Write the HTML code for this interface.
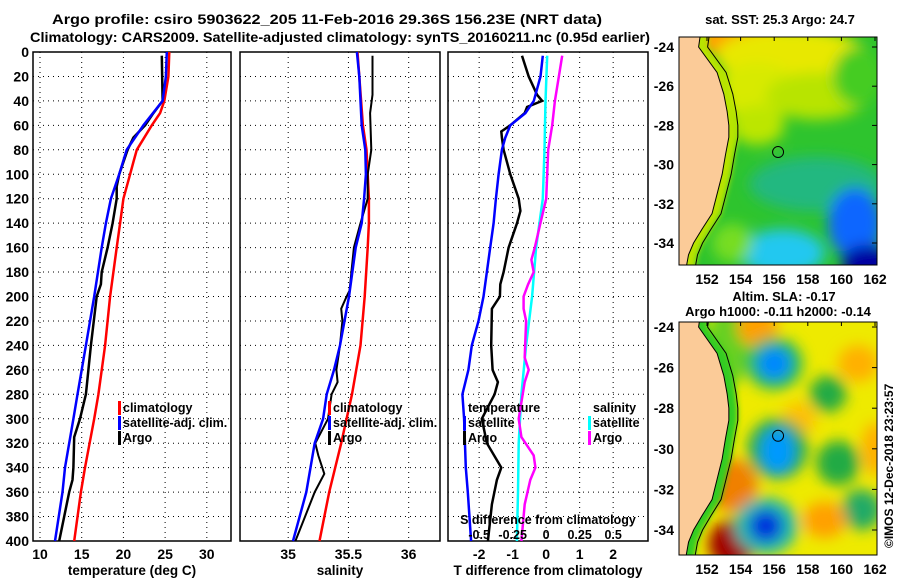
<!DOCTYPE html>
<html><head><meta charset="utf-8"><style>
html,body{margin:0;padding:0;background:#fff;}
svg text{font-family:"Liberation Sans",sans-serif;font-weight:bold;}
</style></head><body>
<svg id="c" width="900" height="580" viewBox="0 0 900 580" xmlns="http://www.w3.org/2000/svg">
<defs>
<filter id="bl" x="-50%" y="-50%" width="200%" height="200%"><feGaussianBlur stdDeviation="7"/></filter>
<filter id="bl2" x="-50%" y="-50%" width="200%" height="200%"><feGaussianBlur stdDeviation="3"/></filter>
<clipPath id="cm1"><rect x="679" y="37" width="198" height="228"/></clipPath>
<clipPath id="cm2"><rect x="679" y="322" width="198" height="233"/></clipPath>
</defs>
<text x="327" y="24" font-size="14" text-anchor="middle" textLength="550" lengthAdjust="spacingAndGlyphs">Argo profile: csiro 5903622_205 11-Feb-2016 29.36S 156.23E (NRT data)</text>
<text x="340" y="42" font-size="14" text-anchor="middle" textLength="620" lengthAdjust="spacingAndGlyphs">Climatology: CARS2009. Satellite-adjusted climatology: synTS_20160211.nc (0.95d earlier)</text>
<g id="panels"></g>
<g id="maps"></g>
</svg>
<script>
// ---- data (depth in m) ----
const depthTicks=[0,20,40,60,80,100,120,140,160,180,200,220,240,260,280,300,320,340,360,380,400];
const tempClimD=[0,20,40,50,60,80,90,100,120,140,160,200,240,280,300,340,360,400];
const tempClim=[25.5,25.4,24.9,24.4,23.4,21.6,21.2,20.8,20,19.6,19.2,18.4,17.8,17,16.5,15.4,14.9,14.1];
const tempSatD=[0,20,40,60,80,100,120,140,160,200,240,260,280,300,340,360,400];
const tempSat=[25.2,25.1,24.7,22.4,20.4,19.5,18.5,17.9,17.4,16.5,15.5,15,14.5,14,13,12.7,11.8];
const tempArgoD=[3,40,50,60,70,80,100,110,120,140,160,180,190,200,240,260,280,300,315,340,350,360,400];
const tempArgo=[24.6,24.7,23.6,22.6,21.2,20.5,19.5,19.2,19.2,18.7,18.1,17.4,17.3,16.8,16.1,15.8,15.5,14.8,14.1,14,13.9,13.5,12.3];
const salClimD=[0,20,60,80,120,140,160,200,240,280,320,360,400];
const salClim=[35.575,35.59,35.62,35.65,35.67,35.67,35.66,35.635,35.6,35.53,35.44,35.34,35.26];
const salSatD=[0,20,60,80,100,120,140,160,200,240,260,280,300,320,360,400];
const salSat=[35.57,35.59,35.61,35.64,35.645,35.63,35.61,35.56,35.505,35.43,35.38,35.32,35.29,35.22,35.15,35.04];
const salArgoD=[3,35,50,80,100,120,140,160,180,195,200,210,220,240,260,270,280,300,320,330,345,360,380,400];
const salArgo=[35.70,35.70,35.68,35.69,35.66,35.66,35.6,35.545,35.525,35.51,35.485,35.44,35.45,35.43,35.4,35.41,35.36,35.33,35.225,35.25,35.3,35.22,35.14,35.06];
const dTsatD=[3,20,40,50,60,70,80,100,120,140,160,200,220,240,260,280,300,340,360,400];
const dTsat=[-0.1,-0.17,-0.37,-0.62,-1.07,-1.22,-1.32,-1.42,-1.5,-1.57,-1.67,-1.87,-2.02,-2.22,-2.32,-2.5,-2.45,-2.4,-2.34,-2.24];
const dTargoD=[3,20,35,40,45,50,60,65,70,80,100,120,130,140,160,180,190,200,210,240,260,270,280,300,320,340,350,370,400];
const dTargo=[-0.72,-0.52,-0.27,-0.12,-0.57,-0.64,-1.07,-1.34,-1.32,-1.27,-1.07,-0.82,-0.77,-0.87,-1.12,-1.27,-1.37,-1.38,-1.62,-1.64,-1.6,-1.44,-1.54,-1.92,-1.77,-1.34,-1.47,-1.62,-1.74];
const dSsatD=[3,40,80,120,160,200,240,280,320,360,400];
const dSsat=[0.008,-0.005,-0.012,-0.025,-0.075,-0.105,-0.15,-0.185,-0.205,-0.21,-0.218];
const dSargoD=[3,40,60,80,120,140,160,170,180,190,200,210,220,250,260,270,280,300,315,330,340,350,370,400];
const dSargo=[0.12,0.065,0.045,0.015,0,-0.043,-0.085,-0.11,-0.093,-0.135,-0.168,-0.168,-0.15,-0.16,-0.13,-0.16,-0.175,-0.205,-0.185,-0.093,-0.08,-0.118,-0.16,-0.185];

const NS='http://www.w3.org/2000/svg';
function mk(tag,attrs,parent){const e=document.createElementNS(NS,tag);for(const k in attrs)e.setAttribute(k,attrs[k]);parent.appendChild(e);return e;}
const Y0=52,Y1=541;
const yD=d=>Y0+d*(Y1-Y0)/400;
const P=document.getElementById('panels');

function panel(name,x0,x1,xmin,xmax,grid,labels,labelVals,xtitle,showY){
  const g=mk('g',{},P);
  
  
  const sx=v=>x0+(v-xmin)*(x1-x0)/(xmax-xmin);
  depthTicks.forEach(d=>{
    if(d>0&&d<400){const l=mk('line',{x1:x0,x2:x1,y1:yD(d),y2:yD(d),stroke:'#000','stroke-width':1,'stroke-dasharray':'1,4'},g);
    }
    if(showY){const t=mk('text',{x:x0-4,y:yD(d)+5,'font-size':14,'text-anchor':'end'},g);t.textContent=d;
    }
  });
  grid.forEach(v=>{const l=mk('line',{x1:sx(v),x2:sx(v),y1:Y0,y2:Y1,stroke:'#000','stroke-width':1,'stroke-dasharray':'1,4'},g);
    });
  labels.forEach((s,i)=>{const t=mk('text',{x:sx(labelVals[i]),y:559,'font-size':14,'text-anchor':'middle'},g);t.textContent=s;
    });
  const tt=mk('text',{x:(x0+x1)/2,y:575,'font-size':13.5,'text-anchor':'middle'},g);tt.textContent=xtitle;
  
  const r=mk('rect',{x:x0,y:Y0,width:x1-x0,height:Y1-Y0,fill:'none',stroke:'#000','stroke-width':1.5},g);
  
  return {g,sx};
}
function line(p,xs,ds,color,w,name,scale){
  const pts=xs.map((v,i)=>p.sx(v*(scale||1)).toFixed(1)+','+yD(ds[i]).toFixed(1)).join(' ');
  const l=mk('polyline',{points:pts,fill:'none',stroke:color,'stroke-width':w},p.g);
  
}
function legend(p,x,y,items){
  items.forEach((it,i)=>{
    if(it[0]){const r=mk('rect',{x:x,y:y+i*15-11,width:3,height:14,fill:it[0]},p.g);
    }
    const t=mk('text',{x:x+5,y:y+i*15,'font-size':12.5},p.g);t.textContent=it[1];
    
  });
}
const p1=panel('temperature-panel',33,231,9.16,32.9,[10,15,20,25,30],['10','15','20','25','30'],[10,15,20,25,30],'temperature (deg C)',true);
line(p1,tempClim,tempClimD,'#ff0000',2.5,'climatology-line');
line(p1,tempArgo,tempArgoD,'#000',2.5,'argo-line');
line(p1,tempSat,tempSatD,'#0000ff',2.5,'satellite-line');
legend(p1,118,412,[['#ff0000','climatology'],['#0000ff','satellite-adj. clim.'],['#000','Argo']]);

const p2=panel('salinity-panel',240,440,34.6,36.26,[35,35.5,36],['35','35.5','36'],[35,35.5,36],'salinity',false);
line(p2,salClim,salClimD,'#ff0000',2.5,'climatology-line');
line(p2,salArgo,salArgoD,'#000',2,'argo-line');
line(p2,salSat,salSatD,'#0000ff',2.5,'satellite-line');
legend(p2,328,412,[['#ff0000','climatology'],['#0000ff','satellite-adj. clim.'],['#000','Argo']]);

const p3=panel('difference-panel',448,648,-2.93,3.04,[-2,-1,0,1,2],['-2','-1','0','1','2'],[-2,-1,0,1,2],'T difference from climatology',false);
line(p3,dTargo,dTargoD,'#000',2.5,'argo-temp-diff-line');
line(p3,dTsat,dTsatD,'#0000ff',2.5,'satellite-temp-diff-line');
line(p3,dSsat,dSsatD,'#00ffff',2.5,'satellite-sal-diff-line',4);
line(p3,dSargo,dSargoD,'#ff00ff',2.5,'argo-sal-diff-line',4);
legend(p3,463,412,[[null,'temperature'],['#0000ff','satellite'],['#000','Argo']]);
legend(p3,588,412,[[null,'salinity'],['#00ffff','satellite'],['#ff00ff','Argo']]);
{const t=mk('text',{x:548,y:524,'font-size':12.5,'text-anchor':'middle'},p3.g);t.textContent='S difference from climatology';

['-0.5','-0.25','0','0.25','0.5'].forEach((s,i)=>{const v=[-0.5,-0.25,0,0.25,0.5][i];
const e=mk('text',{x:p3.sx(v*4),y:539,'font-size':12.5,'text-anchor':'middle'},p3.g);e.textContent=s;
});}

// ---- maps ----
const M=document.getElementById('maps');
function map(name,top,h,yLat,dLat,clip,blobs,base,coastCol,title){
  const g=mk('g',{},M);
  
  const lx=lon=>707+(lon-152)*16.8, ly=lat=>yLat+(-24-lat)*dLat;
  const c=mk('g',{'clip-path':'url(#'+clip+')'},g);
  mk('rect',{x:679,y:top,width:198,height:h,fill:base},c);
  const bg=mk('g',{filter:'url(#bl)'},c);
  blobs.forEach(b=>mk('ellipse',{cx:lx(b[0]),cy:ly(b[1]),rx:b[2]*16.8,ry:b[3]*dLat,fill:b[4]},bg));
  const bg2=mk('g',{filter:'url(#bl2)'},c);
  const coast=[[151.6,-23.4],[151.5,-24],[152.6,-25.3],[153.0,-26.4],[153.2,-27.3],[153.3,-28],[153.3,-28.6],[153.1,-29.5],[152.9,-30.5],[152.6,-31.5],[152.3,-32.5],[151.7,-33.3],[151.2,-34],[150.9,-34.6],[150.6,-36]];
  const pts=coast.map(p=>lx(p[0])+','+ly(p[1])).join(' ');
  const band=coast.map(p=>(lx(p[0])+9)+','+ly(p[1])).join(' ');
  mk('polygon',{points:band+' 670,'+(top+260)+' 670,'+(top-10),fill:coastCol},bg2);
  mk('polyline',{points:band,fill:'none',stroke:'#000','stroke-width':1},c);
  const land=mk('polygon',{points:pts+' 670,'+(top+260)+' 670,'+(top-10),fill:'#fbcb98'},c);
  
  mk('polyline',{points:pts,fill:'none',stroke:'#000','stroke-width':1},c);
  const ci=mk('circle',{cx:lx(156.23),cy:ly(-29.36),r:5.5,fill:'none',stroke:'#000','stroke-width':1},g);
  
  mk('rect',{x:679,y:top,width:198,height:h,fill:'none',stroke:'#000','stroke-width':1},g);
  [-24,-26,-28,-30,-32,-34].forEach(l=>{const t=mk('text',{x:674,y:ly(l)+5,'font-size':14,'text-anchor':'end'},g);t.textContent=l;
    
    mk('line',{x1:872,x2:877,y1:ly(l),y2:ly(l),stroke:'#000'},g);});
  [152,154,156,158,160,162].forEach(l=>{const t=mk('text',{x:lx(l),y:top+h+19,'font-size':14,'text-anchor':'middle'},g);t.textContent=l;
    
    mk('line',{x1:lx(l),x2:lx(l),y1:top,y2:top+4,stroke:'#000'},g);});
  title.forEach((s,i)=>{const t=mk('text',{x:s[1],y:s[2],'font-size':13,'text-anchor':'middle'},g);t.textContent=s[0];
    });
}
map('sst-map',37,228,47,19.6,'cm1',[
  [154,-23.6,3,1,'#ffa000'],[157,-24.5,4.5,1.5,'#e8e800'],[155,-26.3,2.5,1.5,'#d8ea00'],[158.5,-26.5,3,1.2,'#b8e400'],[155,-28,1.6,1,'#bce600'],
  [161,-25.5,1.5,1.5,'#44cc22'],[158.5,-31,4,1.4,'#22b880'],[156.5,-34.5,2.5,1.2,'#22c8f0'],[160.8,-33,1.6,1.8,'#1166ff'],
  [161.5,-35,1.5,0.9,'#0000a0'],[153.5,-34,1.2,1,'#77dd22']
],'#2ec42e','#b8e400',[['sat. SST: 25.3 Argo: 24.7',780,24]]);
map('sla-map',322,233,327,20.3,'cm2',[
  [153.2,-25,1.3,2,'#66d022'],[155,-24,1.2,1,'#ffa000'],[161,-25.8,1.2,0.9,'#ffb000'],[157.5,-28.5,1,0.8,'#ffc000'],
  [156,-25.8,1.7,1.3,'#22bb55'],[156,-25.8,1,0.8,'#0088ff'],
  [159.2,-27.3,1.1,0.9,'#22aa44'],[156.2,-30,1.8,1.5,'#22aa55'],[156.2,-30.1,1,1.1,'#0099ff'],
  [159.8,-30.7,1.3,1.1,'#22aa44'],[161.2,-33,1.2,1,'#22aa66'],[159,-33.5,1.3,0.9,'#ffa000'],[162,-30,0.8,1.3,'#ffb000'],
  [153.5,-31.8,1.5,1.3,'#f08000'],[153.5,-34.7,1.4,1.2,'#a00000'],[155.5,-33.8,1.9,1.4,'#22bbaa'],[155.5,-33.8,1,0.8,'#0033dd']
],'#eeea00','#33cc22',[['Altim. SLA: -0.17',784,301],['Argo h1000: -0.11 h2000: -0.14',778,316]]);
{const t=mk('text',{x:0,y:0,'font-size':12,transform:'translate(893,548) rotate(-90)','font-weight':'normal'},M);
t.textContent='©IMOS 12-Dec-2018 23:23:57';}
</script>
</body></html>
